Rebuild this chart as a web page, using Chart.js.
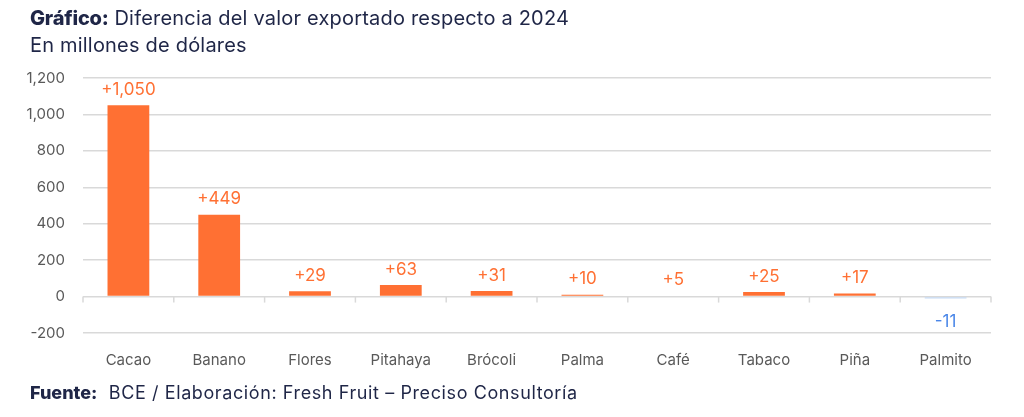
<!DOCTYPE html>
<html>
<head>
<meta charset="utf-8">
<script src="https://cdn.jsdelivr.net/npm/chart.js@4.4.1/dist/chart.umd.min.js"></script>
<style>
  html,body{margin:0;padding:0;background:#fff;}
  body{width:1024px;height:417px;position:relative;overflow:hidden;font-family:Inter,"Open Sans",sans-serif;color:#1f2647;}
  #title{position:absolute;left:30px;top:5px;font-size:20px;line-height:27px;letter-spacing:0.2px;}
  #title b{font-weight:800;letter-spacing:-0.2px;}
  #foot{position:absolute;left:30px;top:382px;font-size:18px;line-height:22px;letter-spacing:0.6px;}
  #foot b{font-weight:800;letter-spacing:0;}
  #wrap{position:absolute;left:0;top:0;width:1024px;height:417px;}
</style>
</head>
<body>
<div id="wrap"><canvas id="c"></canvas></div>
<div id="title"><b>Gráfico:</b> Diferencia del valor exportado respecto a 2024<br>En millones de dólares</div>
<div id="foot"><b>Fuente:</b>&nbsp; BCE / Elaboración: Fresh Fruit – Preciso Consultoría</div>
<script>
const categories = ["Cacao","Banano","Flores","Pitahaya","Brócoli","Palma","Café","Tabaco","Piña","Palmito"];
const values = [1050, 449, 29, 63, 31, 10, 5, 25, 17, -11];
const yTicks = [-200, 0, 200, 400, 600, 800, 1000, 1200];

const POS = "#ff7033", NEG_BAR = "#c6daf3", NEG_TXT = "#4a86e8";

const fmt = v => v.toLocaleString("en-US");

const valueLabels = {
  id: "valueLabels",
  afterDatasetsDraw(chart) {
    const ctx = chart.ctx;
    const meta = chart.getDatasetMeta(0);
    ctx.save();
    ctx.font = "17px Inter, 'Open Sans', sans-serif";
    ctx.textAlign = "center";
    meta.data.forEach((bar, i) => {
      const v = values[i];
      if (v >= 0) {
        ctx.fillStyle = POS;
        ctx.textBaseline = "bottom";
        ctx.fillText("+" + fmt(v), bar.x, bar.y - 7);
      } else {
        ctx.fillStyle = NEG_TXT;
        ctx.textBaseline = "top";
        ctx.fillText(fmt(v), bar.x, bar.y + 15);
      }
    });
    ctx.restore();
  }
};

const zeroTicks = {
  id: "zeroTicks",
  afterDraw(chart) {
    const ctx = chart.ctx, x = chart.scales.x, y = chart.scales.y;
    const y0 = y.getPixelForValue(0);
    const step = x.getPixelForValue(1) - x.getPixelForValue(0);
    ctx.save();
    ctx.strokeStyle = "#d9d9d9";
    ctx.lineWidth = 1.5;
    for (let i = 0; i <= categories.length; i++) {
      const px = x.getPixelForValue(0) - step / 2 + i * step;
      ctx.beginPath();
      ctx.moveTo(px, y0);
      ctx.lineTo(px, y0 + 6);
      ctx.stroke();
    }
    ctx.restore();
  }
};

new Chart(document.getElementById("c"), {
  type: "bar",
  data: {
    labels: categories,
    datasets: [{
      data: values,
      backgroundColor: values.map(v => v >= 0 ? POS : NEG_BAR),
      barPercentage: 0.46,
      categoryPercentage: 1.0
    }]
  },
  options: {
    responsive: true,
    maintainAspectRatio: false,
    animation: false,
    devicePixelRatio: 1,
    layout: { padding: { top: 78, right: 33, bottom: 44, left: 0 } },
    plugins: { legend: { display: false }, tooltip: { enabled: false } },
    scales: {
      x: {
        grid: { display: false },
        border: { display: false },
        ticks: { color: "#595959", font: { size: 15, family: "Inter, 'Open Sans', sans-serif" }, padding: 10, maxRotation: 0 },
        afterFit(s) { s.height = 40; }
      },
      y: {
        min: -200, max: 1200,
        afterBuildTicks(s) { s.ticks = yTicks.map(v => ({ value: v })); },
        grid: { color: "#d9d9d9", lineWidth: 1.5, drawTicks: false },
        border: { display: false },
        ticks: { color: "#595959", font: { size: 15, family: "Inter, 'Open Sans', sans-serif" }, padding: 18, callback: v => fmt(v) },
        afterFit(s) { s.width = 83; }
      }
    }
  },
  plugins: [valueLabels, zeroTicks]
});
</script>
</body>
</html>
